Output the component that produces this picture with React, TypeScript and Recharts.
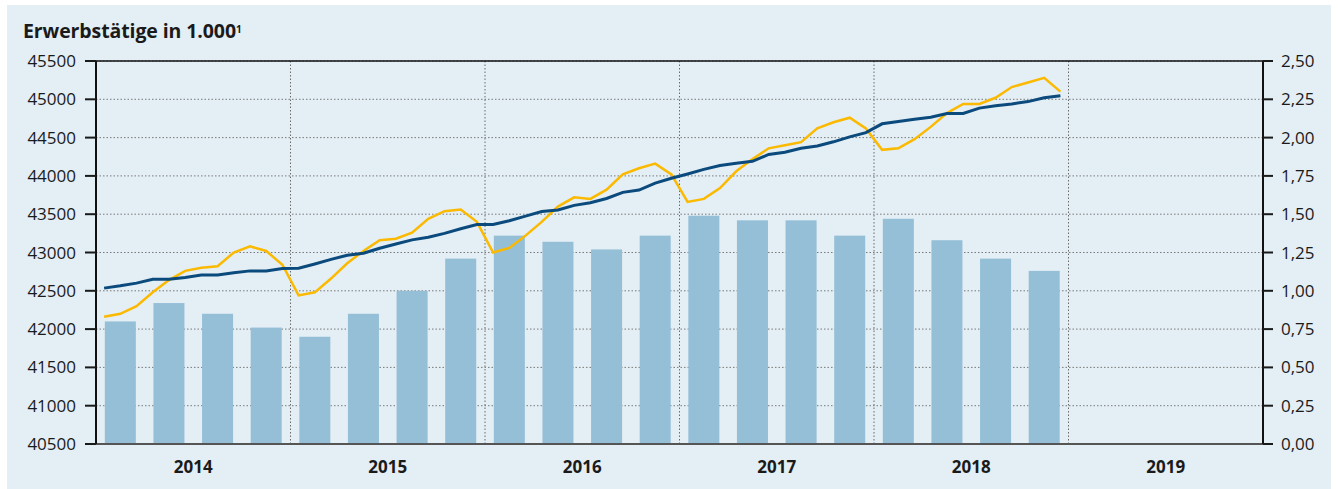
import {
  ComposedChart,
  Bar,
  Line,
  XAxis,
  YAxis,
  CartesianGrid,
  ReferenceLine,
} from "recharts";

// Jahre auf der x-Achse (je 12 Monate)
const years = ["2014", "2015", "2016", "2017", "2018", "2019"];
const yearTicks = [6, 18, 30, 42, 54, 66];
const yearBounds = [12, 24, 36, 48, 60];

const leftTicks = [40500, 41000, 41500, 42000, 42500, 43000, 43500, 44000, 44500, 45000, 45500];
const rightTicks = [0, 0.25, 0.5, 0.75, 1, 1.25, 1.5, 1.75, 2, 2.25, 2.5];

// Erwerbstätige in 1.000, monatlich Jan 2014 – Dez 2018 (linke Achse)
const erwerbstaetige = [
  42535, 42565, 42600, 42650, 42650, 42675, 42705, 42705, 42735, 42760, 42760, 42790,
  42795, 42850, 42910, 42965, 42990, 43055, 43110, 43165, 43200, 43250, 43310, 43365,
  43365, 43415, 43475, 43535, 43555, 43615, 43650, 43705, 43785, 43815, 43905, 43970,
  44025, 44085, 44135, 44165, 44190, 44280, 44310, 44360, 44390, 44445, 44510, 44565,
  44680, 44710, 44740, 44765, 44815, 44815, 44885, 44915, 44940, 44970, 45020, 45045,
];

// Veränderung gegenüber Vorjahr in %, monatlich (rechte Achse)
const veraenderung = [
  0.83, 0.85, 0.9, 0.99, 1.07, 1.13, 1.15, 1.16, 1.25, 1.29, 1.26, 1.17,
  0.97, 0.99, 1.08, 1.18, 1.26, 1.33, 1.34, 1.38, 1.47, 1.52, 1.53, 1.45,
  1.25, 1.28, 1.36, 1.45, 1.55, 1.61, 1.6, 1.66, 1.76, 1.8, 1.83, 1.76,
  1.58, 1.6, 1.67, 1.78, 1.86, 1.93, 1.95, 1.97, 2.06, 2.1, 2.13, 2.06,
  1.92, 1.93, 1.99, 2.07, 2.16, 2.22, 2.22, 2.26, 2.33, 2.36, 2.39, 2.3,
];

// Quartalswerte in % (rechte Achse), Q1 2014 – Q4 2018
const quartale = [
  0.8, 0.92, 0.85, 0.76,
  0.7, 0.85, 1.0, 1.21,
  1.36, 1.32, 1.27, 1.36,
  1.49, 1.46, 1.46, 1.36,
  1.47, 1.33, 1.21, 1.13,
];

// Monatsraster, Balken jeweils im mittleren Monat des Quartals
const data = erwerbstaetige.map((v, i) => ({
  x: i + 0.5,
  level: v,
  rate: veraenderung[i],
  bar: i % 3 === 1 ? quartale[(i - 1) / 3] : null,
}));

const fmtRight = (v: number) => v.toFixed(2).replace(".", ",");

const BAR_W = 31;

// Balken ist ein Quartal breit, Recharts kappt ihn sonst auf die Monatsbreite
const QuarterBar = (props: any) => {
  const { x, y, width, height, fill } = props;
  if (!height || height <= 0) return null;
  const cx = x + width / 2;
  return <rect x={cx - BAR_W / 2} y={y} width={BAR_W} height={height} fill={fill} />;
};

const YearTick = (props: any) => {
  const { x, y, payload } = props;
  const idx = yearTicks.indexOf(payload.value);
  return (
    <text x={x} y={y + 27} textAnchor="middle" fontSize={17} fontWeight={700} fill="#1a1a1a">
      {years[idx]}
    </text>
  );
};

export default function App() {
  return (
    <div
      style={{
        position: "relative",
        width: 1338,
        height: 489,
        background: "#fff",
        fontFamily: "'Open Sans', sans-serif",
        overflow: "hidden",
      }}
    >
      <style>{"body{margin:0}"}</style>
      <div
        style={{
          position: "absolute",
          left: 7,
          top: 5,
          width: 1324,
          height: 484,
          background: "#e3eef5",
        }}
      />
      <div
        style={{
          position: "absolute",
          left: 23,
          top: 17,
          fontSize: 19.5,
          fontWeight: 700,
          color: "#1a1a1a",
          lineHeight: "28px",
          whiteSpace: "nowrap",
          letterSpacing: -0.1,
        }}
      >
        Erwerbstätige in 1.000
        <sup style={{ fontSize: 10, verticalAlign: "top", position: "relative", top: -2 }}>1</sup>
      </div>
      <div style={{ position: "absolute", left: 0, top: 0 }}>
        <ComposedChart
          width={1338}
          height={489}
          data={data}
          margin={{ top: 61, right: 0, bottom: 0, left: 0 }}
        >
          <CartesianGrid
            yAxisId="l"
            vertical={false}
            stroke="#7a7a7a"
            strokeDasharray="1.5 2"
          />
          <XAxis
            dataKey="x"
            type="number"
            domain={[0, 72]}
            ticks={yearTicks}
            interval={0}
            height={45}
            tickLine={false}
            tickSize={0}
            tick={<YearTick />}
            axisLine={{ stroke: "#555", strokeWidth: 2 }}
          />
          <YAxis
            yAxisId="l"
            orientation="left"
            domain={[40500, 45500]}
            ticks={leftTicks}
            interval={0}
            width={96}
            tickSize={11}
            tickMargin={9}
            tick={{ fontSize: 17, fill: "#1a1a1a" }}
            tickLine={{ stroke: "#1a1a1a", strokeWidth: 2 }}
            axisLine={{ stroke: "#111", strokeWidth: 2 }}
          />
          <YAxis
            yAxisId="r"
            orientation="right"
            domain={[0, 2.5]}
            ticks={rightTicks}
            interval={0}
            width={75}
            tickSize={10}
            tickMargin={8}
            tickFormatter={fmtRight}
            tick={{ fontSize: 17, fill: "#1a1a1a" }}
            tickLine={{ stroke: "#1a1a1a", strokeWidth: 2 }}
            axisLine={{ stroke: "#111", strokeWidth: 2 }}
          />
          {yearBounds.map((b) => (
            <ReferenceLine
              key={b}
              yAxisId="l"
              x={b}
              stroke="#6a6a6a"
              strokeDasharray="1.5 2"
            />
          ))}
          <ReferenceLine yAxisId="l" y={45500} stroke="#111" strokeWidth={1.5} />
          <Bar
            yAxisId="r"
            dataKey="bar"
            fill="#95bed7"
            shape={<QuarterBar />}
            isAnimationActive={false}
          />
          <Line
            yAxisId="r"
            dataKey="rate"
            stroke="#fbb900"
            strokeWidth={2.5}
            dot={false}
            type="linear"
            isAnimationActive={false}
          />
          <Line
            yAxisId="l"
            dataKey="level"
            stroke="#0b4a7c"
            strokeWidth={3}
            dot={false}
            type="linear"
            isAnimationActive={false}
          />
        </ComposedChart>
      </div>
    </div>
  );
}
